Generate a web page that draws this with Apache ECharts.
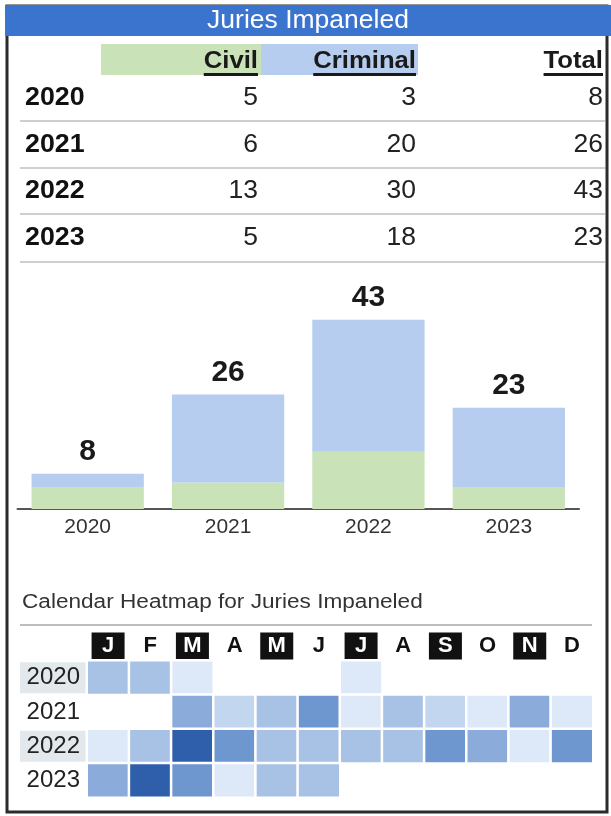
<!DOCTYPE html>
<html>
<head>
<meta charset="utf-8">
<script src="https://cdn.jsdelivr.net/npm/echarts@6/dist/echarts.min.js"></script>
<style>
  html, body { margin: 0; padding: 0; background: #fff; }
  #chart { width: 611px; height: 816px; }
</style>
</head>
<body>
<div id="chart"></div>
<script>
// Annual jury counts by case type
const years = ['2020', '2021', '2022', '2023'];
const civil = [5, 6, 13, 5];
const criminal = [3, 20, 30, 18];
const totals = [8, 26, 43, 23];

// Monthly counts for the calendar heatmap (0 = none)
const months = ['Jan', 'Feb', 'Mar', 'Apr', 'May', 'Jun', 'Jul', 'Aug', 'Sep', 'Oct', 'Nov', 'Dec'];
const monthly2020 = [3, 3, 1, 0, 0, 0, 1, 0, 0, 0, 0, 0];
const monthly2021 = [0, 0, 4, 2, 3, 5, 1, 3, 2, 1, 4, 1];
const monthly2022 = [1, 3, 7, 5, 3, 3, 3, 3, 5, 4, 1, 5];
const monthly2023 = [4, 7, 5, 1, 3, 3, 0, 0, 0, 0, 0, 0];
const monthlyByYear = [monthly2020, monthly2021, monthly2022, monthly2023];

const FONT = '"Liberation Sans", Arial, sans-serif';
const chart = echarts.init(document.getElementById('chart'), null, { renderer: 'canvas' });

// text measuring for the header underlines
const ctx = document.createElement('canvas').getContext('2d');
function textWidth(str, size, weight) {
  ctx.font = (weight || 'normal') + ' ' + size + 'px ' + FONT;
  return ctx.measureText(str).width;
}

// text element anchored at (x, y), optionally stretched horizontally
function label(text, x, y, font, fill, align, sx) {
  return {
    type: 'text', x: x, y: y, z: 5, scaleX: sx || 1,
    style: { text: text, fill: fill, font: font, align: align, verticalAlign: 'middle' }
  };
}

// ---- table layout ----
const colRight = { civil: 258, criminal: 416, total: 603 };
const rowCenter = [98, 145, 191, 238];
const rowLine = [121, 168, 214, 262];
const graphics = [];

// card frame and title bar
graphics.push({ type: 'rect', shape: { x: 7, y: 6, width: 600, height: 806 },
  style: { fill: 'none', stroke: '#2b2b2b', lineWidth: 3 }, z: 10 });
graphics.push({ type: 'rect', shape: { x: 5, y: 5, width: 606, height: 31 },
  style: { fill: '#3b74cf' }, z: 11 });
const title = label('Juries Impaneled', 308, 21, '25px ' + FONT, '#ffffff', 'center', 1.06);
title.z = 12;
graphics.push(title);

// header bands
graphics.push({ type: 'rect', shape: { x: 101, y: 44, width: 160, height: 31 }, style: { fill: '#c9e2b8' } });
graphics.push({ type: 'rect', shape: { x: 261, y: 44, width: 157, height: 31 }, style: { fill: '#b6cdf0' } });

// header labels with underline
const HEAD_SX = 1.07;
[['Civil', colRight.civil], ['Criminal', colRight.criminal], ['Total', colRight.total]].forEach(([txt, xr]) => {
  const w = textWidth(txt, 24, 'bold') * HEAD_SX;
  graphics.push(label(txt, xr, 61, 'bold 24px ' + FONT, '#1a1a1a', 'right', HEAD_SX));
  graphics.push({ type: 'line', z: 5, shape: { x1: xr - w, y1: 74.5, x2: xr, y2: 74.5 },
    style: { stroke: '#1a1a1a', lineWidth: 3 } });
});

// data rows
years.forEach((yr, i) => {
  const yc = rowCenter[i];
  graphics.push(label(yr, 25, yc, 'bold 26px ' + FONT, '#111', 'left', 1.03));
  [[civil[i], colRight.civil], [criminal[i], colRight.criminal], [totals[i], colRight.total]].forEach(([v, xr]) => {
    graphics.push(label(String(v), xr, yc, '25px ' + FONT, '#222', 'right', 1.06));
  });
  graphics.push({ type: 'line', shape: { x1: 20, y1: rowLine[i], x2: 605, y2: rowLine[i] },
    style: { stroke: '#cfcfcf', lineWidth: 2 } });
});

// heatmap heading
graphics.push(label('Calendar Heatmap for Juries Impaneled', 22, 602, '20px ' + FONT, '#333', 'left', 1.13));
graphics.push({ type: 'line', shape: { x1: 20, y1: 625, x2: 592, y2: 625 },
  style: { stroke: '#bdbdbd', lineWidth: 2 } });

// heatmap cells from the monthly arrays
const heatData = [];
monthlyByYear.forEach((arr, yi) => {
  arr.forEach((v, mi) => { if (v > 0) heatData.push([mi, yi, v]); });
});

const option = {
  animation: false,
  textStyle: { fontFamily: FONT },
  graphic: graphics,
  grid: [
    { left: 17.5, width: 561.5, top: 289, height: 220 },
    { left: 87, width: 506, top: 660.5, height: 137 }
  ],
  xAxis: [
    {
      gridIndex: 0, type: 'category', data: years,
      axisLine: { lineStyle: { color: '#555', width: 2 } },
      axisTick: { show: false },
      axisLabel: { fontSize: 21, color: '#333', margin: 8 }
    },
    {
      gridIndex: 1, type: 'category', data: months, position: 'top',
      axisLine: { show: false }, axisTick: { show: false }, splitLine: { show: false },
      axisLabel: {
        margin: 1,
        interval: 0,
        formatter: (v, i) => (i % 2 === 0 ? '{b|' : '{w|') + v.charAt(0) + '}',
        rich: {
          b: { backgroundColor: '#111', color: '#fff', width: 33, height: 27, align: 'center',
               fontWeight: 'bold', fontSize: 22, fontFamily: FONT },
          w: { color: '#111', width: 33, height: 27, align: 'center',
               fontWeight: 'bold', fontSize: 22, fontFamily: FONT }
        }
      }
    }
  ],
  yAxis: [
    { gridIndex: 0, type: 'value', min: 0, max: 50, show: false },
    {
      gridIndex: 1, type: 'category', data: years, inverse: true,
      axisLine: { show: false }, axisTick: { show: false }, splitLine: { show: false },
      axisLabel: {
        margin: 0,
        formatter: (v, i) => (i % 2 === 0 ? '{s|' : '{n|') + v + '}',
        rich: {
          s: { backgroundColor: '#e2e8ec', width: 60, height: 31, align: 'right', padding: [0, 7, 0, 0],
               fontSize: 24, color: '#222', fontFamily: FONT },
          n: { width: 60, height: 31, align: 'right', padding: [0, 7, 0, 0],
               fontSize: 24, color: '#222', fontFamily: FONT }
        }
      }
    }
  ],
  visualMap: {
    show: false, min: 1, max: 7, seriesIndex: 2,
    inRange: { color: ['#dde9f8', '#a8c2e6', '#6e96cf', '#2f5fab'] }
  },
  series: [
    {
      name: 'Civil', type: 'bar', stack: 'juries', xAxisIndex: 0, yAxisIndex: 0,
      data: civil, barCategoryGap: '20%',
      itemStyle: { color: '#c9e2b8' }
    },
    {
      name: 'Criminal', type: 'bar', stack: 'juries', xAxisIndex: 0, yAxisIndex: 0,
      data: criminal, barCategoryGap: '20%',
      itemStyle: { color: '#b6cdf0' },
      label: {
        show: true, position: 'top', distance: 7,
        formatter: p => String(civil[p.dataIndex] + criminal[p.dataIndex]),
        fontSize: 30, fontWeight: 'bold', color: '#1a1a1a', fontFamily: FONT
      }
    },
    {
      name: 'Monthly', type: 'heatmap', xAxisIndex: 1, yAxisIndex: 1,
      data: heatData,
      itemStyle: { borderColor: '#fff', borderWidth: 2.5 }
    }
  ]
};

chart.setOption(option);
</script>
</body>
</html>
